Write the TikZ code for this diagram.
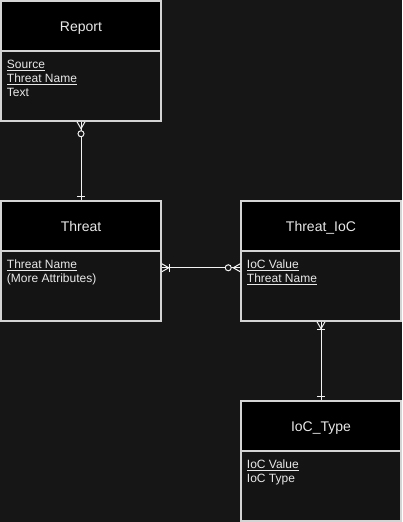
\documentclass[tikz,border=0pt]{standalone}
\usepackage{fontspec}
\setmainfont{Liberation Sans}
\usetikzlibrary{calc}
\definecolor{bg}{HTML}{161616}
\definecolor{bodyc}{HTML}{141414}
\definecolor{bord}{HTML}{D4D4D4}
\definecolor{txt}{HTML}{E8E8E8}
\definecolor{ln}{HTML}{F2F2F2}
\begin{document}
\begin{tikzpicture}[x=1pt,y=-1pt,
  hdr/.style={draw=bord,line width=1.5pt,fill=black,minimum width=160pt,minimum height=50pt,inner sep=0pt,
    text=txt,font=\fontsize{14}{16}\selectfont,text height=10.5pt,text depth=0.5pt},
  bodybox/.style={draw=bord,line width=1.5pt,fill=bodyc,minimum width=160pt,minimum height=70pt,inner sep=0pt},
  attr/.style={anchor=base west,inner sep=0pt,text=txt,font=\fontsize{12}{14}\selectfont},
  conn/.style={draw=ln,line width=1pt},
  ring/.style={draw=ln,line width=1pt,fill=bg}]
\fill[bg] (0,0) rectangle (402,522);
% Report
\node[hdr] (rh) at (81,26) {Report};
\node[bodybox] (rb) at (81,86) {};
\node[attr] (r1) at ($(rb.north west)+(6.5,18.5)$) {\underline{Source}};
\node[attr] (r2) at ($(r1.base west)+(0,14)$) {\underline{Threat Name}};
\node[attr] (r3) at ($(r2.base west)+(0,14)$) {Text};
% Threat
\node[hdr] (th) at (81,226) {Threat};
\node[bodybox] (tb) at (81,286) {};
\node[attr] (t1) at ($(tb.north west)+(6.5,18.5)$) {\underline{Threat Name}};
\node[attr] (t2) at ($(t1.base west)+(0,14)$) {(More Attributes)};
% Threat_IoC
\node[hdr] (ih) at (321,226) {Threat\_IoC};
\node[bodybox] (ib) at (321,286) {};
\node[attr] (i1) at ($(ib.north west)+(6.5,18.5)$) {\underline{IoC Value}};
\node[attr] (i2) at ($(i1.base west)+(0,14)$) {\underline{Threat Name}};
% IoC_Type
\node[hdr] (yh) at (321,426) {IoC\_Type};
\node[bodybox] (yb) at (321,486) {};
\node[attr] (y1) at ($(yb.north west)+(6.5,18.5)$) {\underline{IoC Value}};
\node[attr] (y2) at ($(y1.base west)+(0,14)$) {IoC Type};
% Report -- Threat
\draw[conn] (rb.south) -- (th.north);
\draw[conn] ($(rb.south)+(-4,0)$) -- ($(rb.south)+(0,7)$) -- ($(rb.south)+(4,0)$);
\draw[ring] ($(rb.south)+(0,12)$) circle (3);
\draw[conn] ($(th.north)+(-4,-4)$) -- ($(th.north)+(4,-4)$);
% Threat -- Threat_IoC
\coordinate (ha) at ($(tb.north east)+(0,17.5)$);
\coordinate (hb) at ($(ib.north west)+(0,17.5)$);
\draw[conn] (ha) -- (hb);
\draw[conn] ($(ha)+(0,-4)$) -- ($(ha)+(7,0)$) -- ($(ha)+(0,4)$);
\draw[conn] ($(ha)+(8,-4)$) -- ($(ha)+(8,4)$);
\draw[conn] ($(hb)+(0,-4)$) -- ($(hb)+(-7,0)$) -- ($(hb)+(0,4)$);
\draw[ring] ($(hb)+(-12,0)$) circle (3);
% Threat_IoC -- IoC_Type
\draw[conn] (ib.south) -- (yh.north);
\draw[conn] ($(ib.south)+(-4,0)$) -- ($(ib.south)+(0,7)$) -- ($(ib.south)+(4,0)$);
\draw[conn] ($(ib.south)+(-4,8)$) -- ($(ib.south)+(4,8)$);
\draw[conn] ($(yh.north)+(-4,-4)$) -- ($(yh.north)+(4,-4)$);
\end{tikzpicture}
\end{document}
